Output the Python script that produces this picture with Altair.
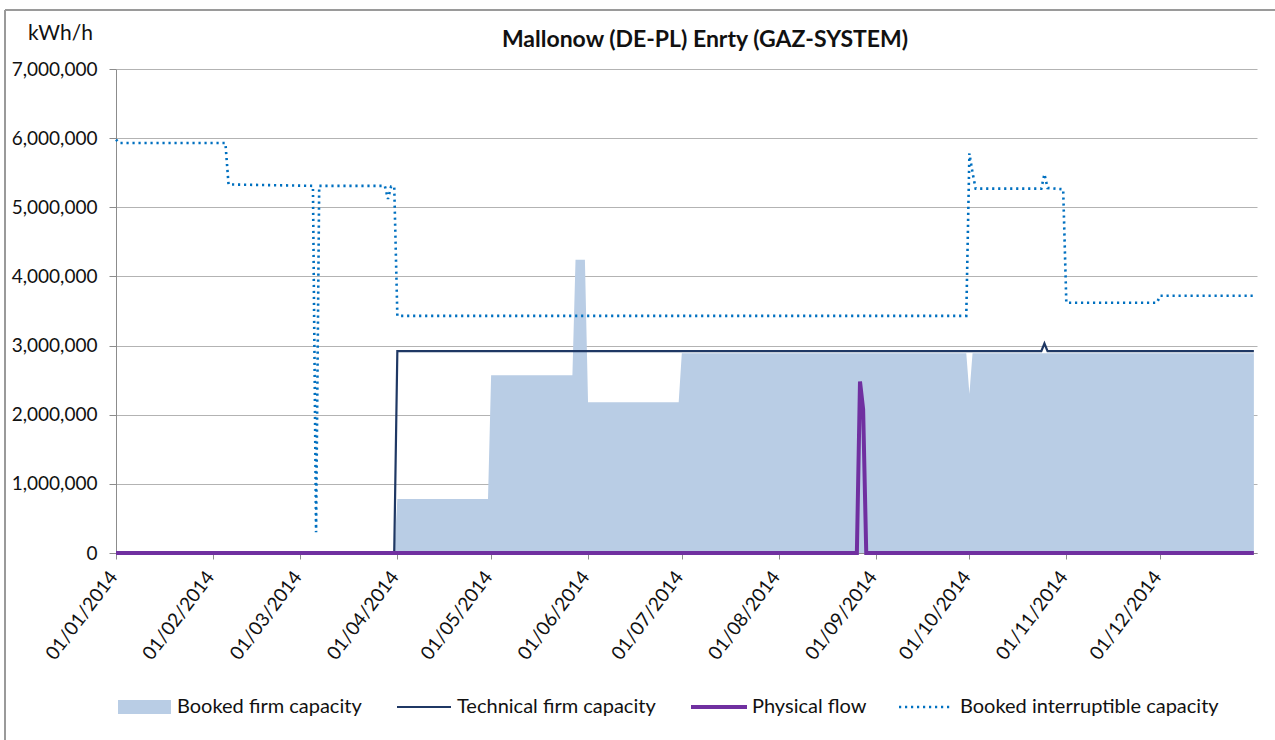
import altair as alt
import pandas as pd

# ---------------- data (breakpoints, kWh/h) ----------------
firm_dates = ["2014-01-01", "2014-03-31", "2014-04-01", "2014-04-30", "2014-05-01",
              "2014-05-27", "2014-05-28", "2014-05-31", "2014-06-01", "2014-06-30",
              "2014-07-01", "2014-09-30", "2014-10-01", "2014-10-02", "2014-12-31"]
firm_values = [0, 0, 780000, 780000, 2570000,
               2570000, 4240000, 4240000, 2180000, 2180000,
               2890000, 2890000, 2300000, 2890000, 2890000]

tech_dates = ["2014-01-01", "2014-03-31", "2014-04-01", "2014-10-24", "2014-10-25",
              "2014-10-26", "2014-12-31"]
tech_values = [0, 0, 2920000, 2920000, 3030000, 2920000, 2920000]

flow_dates = ["2014-01-01", "2014-08-26", "2014-08-27", "2014-08-28", "2014-08-29", "2014-12-31"]
flow_values = [0, 0, 2480000, 2080000, 0, 0]

inter_dates = ["2014-01-01", "2014-01-02", "2014-02-05", "2014-02-06", "2014-03-05",
               "2014-03-06", "2014-03-07", "2014-03-28", "2014-03-29", "2014-03-30",
               "2014-03-31", "2014-04-01", "2014-09-30", "2014-10-01", "2014-10-02",
               "2014-10-03", "2014-10-24", "2014-10-25", "2014-10-26", "2014-10-31",
               "2014-11-01", "2014-11-30", "2014-12-01", "2014-12-31"]
inter_values = [5980000, 5930000, 5930000, 5330000, 5310000,
                300000, 5310000, 5310000, 5120000, 5300000,
                5300000, 3430000, 3430000, 5780000, 5500000,
                5270000, 5270000, 5480000, 5280000, 5260000,
                3620000, 3620000, 3720000, 3720000]

month_ticks = list(range(1, 13))
y_ticks = [0, 1000000, 2000000, 3000000, 4000000, 5000000, 6000000, 7000000]

legend_labels = ["Booked firm capacity", "Technical firm capacity", "Physical flow",
                 "Booked interruptible capacity"]

title_text = "Mallonow (DE-PL) Enrty (GAZ-SYSTEM)"
y_title = "kWh/h"

FONT = "Lato"
W, H = 1141, 484

firm_df = pd.DataFrame({"date": firm_dates, "value": firm_values})
tech_df = pd.DataFrame({"date": tech_dates, "value": tech_values})
flow_df = pd.DataFrame({"date": flow_dates, "value": flow_values})
inter_df = pd.DataFrame({"date": inter_dates, "value": inter_values})
one = pd.DataFrame({"a": [0]})

x_enc = alt.X(
    "date:T",
    scale=alt.Scale(type="utc",
                    domain=[alt.DateTime(year=2014, month=1, date=1, utc=True),
                            alt.DateTime(year=2015, month=1, date=1, utc=True)]),
    axis=alt.Axis(
        values=[alt.DateTime(year=2014, month=m, date=1, utc=True) for m in month_ticks],
        labelExpr="utcFormat(datum.value, '%d/%m/%Y')",
        labelAngle=307, labelAlign="right", labelOffset=-3,
        labelBaseline="middle", grid=False, tickSize=6, labelPadding=14,
        labelFontSize=19, labelFont=FONT, labelColor="#111111",
        domainColor="#8c8c8c", tickColor="#8c8c8c", title=None, labelOverlap=False,
    ),
)
y_enc = alt.Y(
    "value:Q",
    scale=alt.Scale(domain=[0, 7000000]),
    axis=alt.Axis(
        values=y_ticks, labelExpr="format(datum.value, ',')", tickSize=7, labelPadding=12,
        labelFontSize=19,
        labelFont=FONT, labelColor="#111111", gridColor="#b3b3b3", gridWidth=1.2,
        domainColor="#8c8c8c", tickColor="#8c8c8c",
        title=y_title, titleAngle=0, titleX=-56, titleY=-36, titleAlign="center",
        titleBaseline="middle", titleFont=FONT, titleFontSize=21, titleFontWeight="normal",
        titleColor="#111111",
    ),
)

area = alt.Chart(firm_df).mark_area(color="#b9cde5", opacity=1, interpolate="linear").encode(x=x_enc, y=y_enc)
inter = alt.Chart(inter_df).mark_line(color="#0070c0", strokeWidth=2.6, strokeDash=[2.2, 3.8]).encode(x=x_enc, y=y_enc)
tech = alt.Chart(tech_df).mark_line(color="#1f3864", strokeWidth=2.2).encode(x=x_enc, y=y_enc)
flow = alt.Chart(flow_df).mark_line(color="#7030a0", strokeWidth=4).encode(x=x_enc, y=y_enc)

# outer frame (top and left edges)
frame_top = alt.Chart(one).mark_rule(color="#9a9a9a", strokeWidth=2).encode(
    x=alt.value(-111), x2=alt.value(1160), y=alt.value(-59))
frame_left = alt.Chart(one).mark_rule(color="#9a9a9a", strokeWidth=2).encode(
    x=alt.value(-111), y=alt.value(-59), y2=alt.value(680))

title = alt.Chart(one).mark_text(font=FONT, fontSize=23, fontWeight="bold", color="#111111",
                                 align="center", baseline="middle").encode(
    x=alt.value(589), y=alt.value(-29), text=alt.value(title_text))

# legend
LY = 638
leg = [
    alt.Chart(one).mark_rect(color="#b9cde5").encode(
        x=alt.value(2), x2=alt.value(55), y=alt.value(LY - 7), y2=alt.value(LY + 7)),
    alt.Chart(one).mark_rule(color="#1f3864", strokeWidth=2.2).encode(
        x=alt.value(281), x2=alt.value(335), y=alt.value(LY)),
    alt.Chart(one).mark_rule(color="#7030a0", strokeWidth=4).encode(
        x=alt.value(575), x2=alt.value(631), y=alt.value(LY)),
    alt.Chart(one).mark_rule(color="#0070c0", strokeWidth=2.6, strokeDash=[2.2, 3.8]).encode(
        x=alt.value(783), x2=alt.value(835), y=alt.value(LY)),
]
for lx, lab in zip([61, 341, 636, 844], legend_labels):
    leg.append(alt.Chart(one).mark_text(font=FONT, fontSize=20, color="#111111", align="left",
                                        baseline="middle").encode(
        x=alt.value(lx), y=alt.value(LY), text=alt.value(lab)))

chart = alt.layer(area, inter, tech, flow, frame_top, frame_left, title, *leg).properties(
    width=W, height=H,
    autosize=alt.AutoSizeParams(type="none"),
    padding={"left": 116, "top": 69, "right": 18, "bottom": 187},
    background="white",
).configure_view(strokeWidth=0)

chart.save("out.html", embed_options={"renderer": "svg", "actions": False})
